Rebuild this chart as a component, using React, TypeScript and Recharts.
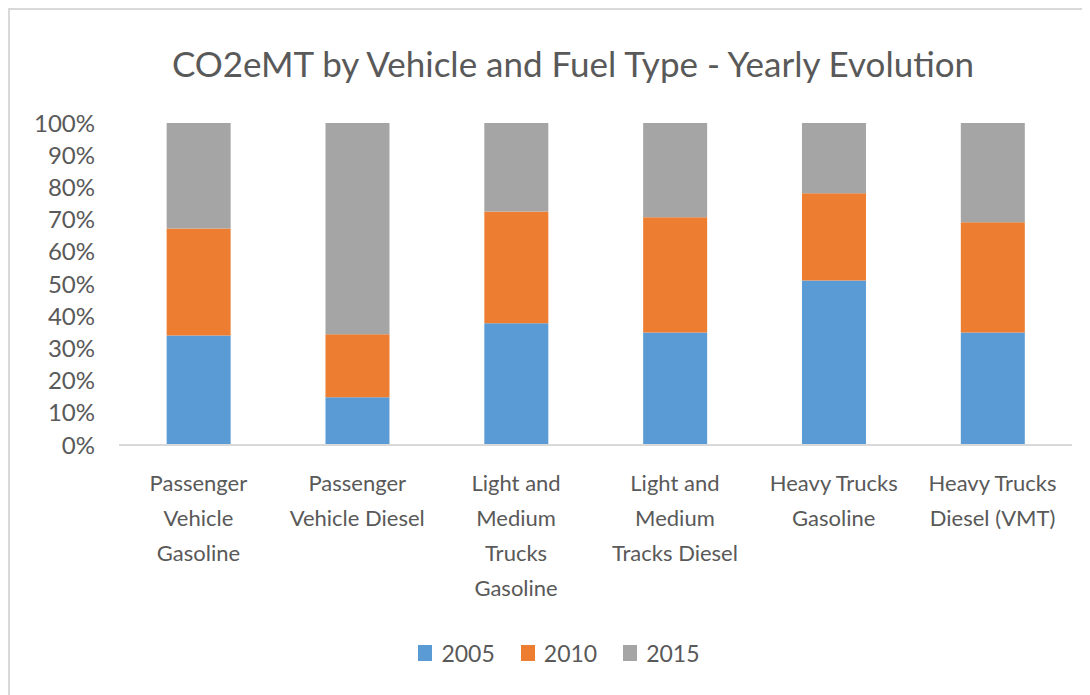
import { BarChart, Bar, XAxis, YAxis, Legend } from "recharts";

const categories = [
  "Passenger Vehicle Gasoline",
  "Passenger Vehicle Diesel",
  "Light and Medium Trucks Gasoline",
  "Light and Medium Tracks Diesel",
  "Heavy Trucks Gasoline",
  "Heavy Trucks Diesel (VMT)",
];

// wrapped the same way as the original chart
const tickLines = [
  ["Passenger", "Vehicle", "Gasoline"],
  ["Passenger", "Vehicle Diesel"],
  ["Light and", "Medium", "Trucks", "Gasoline"],
  ["Light and", "Medium", "Tracks Diesel"],
  ["Heavy Trucks", "Gasoline"],
  ["Heavy Trucks", "Diesel (VMT)"],
];

// share of each year, in percent
const y2005 = [34.0, 14.8, 37.8, 34.9, 51.1, 34.9];
const y2010 = [33.2, 19.6, 34.7, 35.8, 27.1, 34.3];
const y2015 = [32.8, 65.6, 27.5, 29.3, 21.8, 30.8];

const yTicks = [0, 10, 20, 30, 40, 50, 60, 70, 80, 90, 100];

const series = [
  { key: "y2005", name: "2005", color: "#5b9bd5" },
  { key: "y2010", name: "2010", color: "#ed7d31" },
  { key: "y2015", name: "2015", color: "#a5a5a5" },
];

const data = categories.map((name, i) => ({
  name,
  y2005: y2005[i],
  y2010: y2010[i],
  y2015: y2015[i],
}));

const FONT = "Lato, 'Open Sans', sans-serif";
const TEXT = "#595959";

function CategoryTick(props: any) {
  const { x, y, index } = props;
  const lines = tickLines[index] || [];
  return (
    <g>
      {lines.map((line, i) => (
        <text
          key={i}
          x={x}
          y={y + 38 + i * 35}
          textAnchor="middle"
          fill={TEXT}
          fontSize={22}
          fontFamily={FONT}
        >
          {line}
        </text>
      ))}
    </g>
  );
}

function LegendBox() {
  return (
    <div
      style={{
        display: "flex",
        justifyContent: "center",
        gap: 26,
        paddingLeft: 36,
        fontFamily: FONT,
        fontSize: 23,
        color: TEXT,
      }}
    >
      {series.map((s) => (
        <div key={s.key} style={{ display: "flex", alignItems: "center", gap: 9 }}>
          <span style={{ display: "inline-block", width: 14, height: 16, background: s.color }} />
          <span>{s.name}</span>
        </div>
      ))}
    </div>
  );
}

export default function App() {
  return (
    <div
      style={{
        position: "relative",
        width: 1082,
        height: 687,
        borderTop: "2px solid #d9d9d9",
        borderLeft: "2px solid #d9d9d9",
        background: "#fff",
      }}
    >
      <div
        style={{
          position: "absolute",
          top: 32,
          left: 0,
          width: 1126,
          textAlign: "center",
          fontFamily: FONT,
          fontSize: 35,
          color: TEXT,
        }}
      >
        CO2eMT by Vehicle and Fuel Type - Yearly Evolution
      </div>
      <BarChart
        width={1080}
        height={685}
        data={data}
        margin={{ top: 113, right: 18, bottom: 0, left: 0 }}
        barCategoryGap="30%"
      >
        <XAxis
          dataKey="name"
          axisLine={{ stroke: "#d9d9d9", strokeWidth: 2 }}
          tickLine={false}
          tick={<CategoryTick />}
          interval={0}
          height={222}
        />
        <YAxis
          width={109}
          domain={[0, 100]}
          ticks={yTicks}
          tickFormatter={(v) => `${v}%`}
          axisLine={false}
          tickLine={false}
          tick={{ fill: TEXT, fontSize: 24, fontFamily: FONT }}
          tickMargin={18}
        />
        <Legend verticalAlign="bottom" content={<LegendBox />} wrapperStyle={{ bottom: 28 }} />
        {series.map((s) => (
          <Bar key={s.key} dataKey={s.key} name={s.name} stackId="a" fill={s.color} isAnimationActive={false} />
        ))}
      </BarChart>
    </div>
  );
}
